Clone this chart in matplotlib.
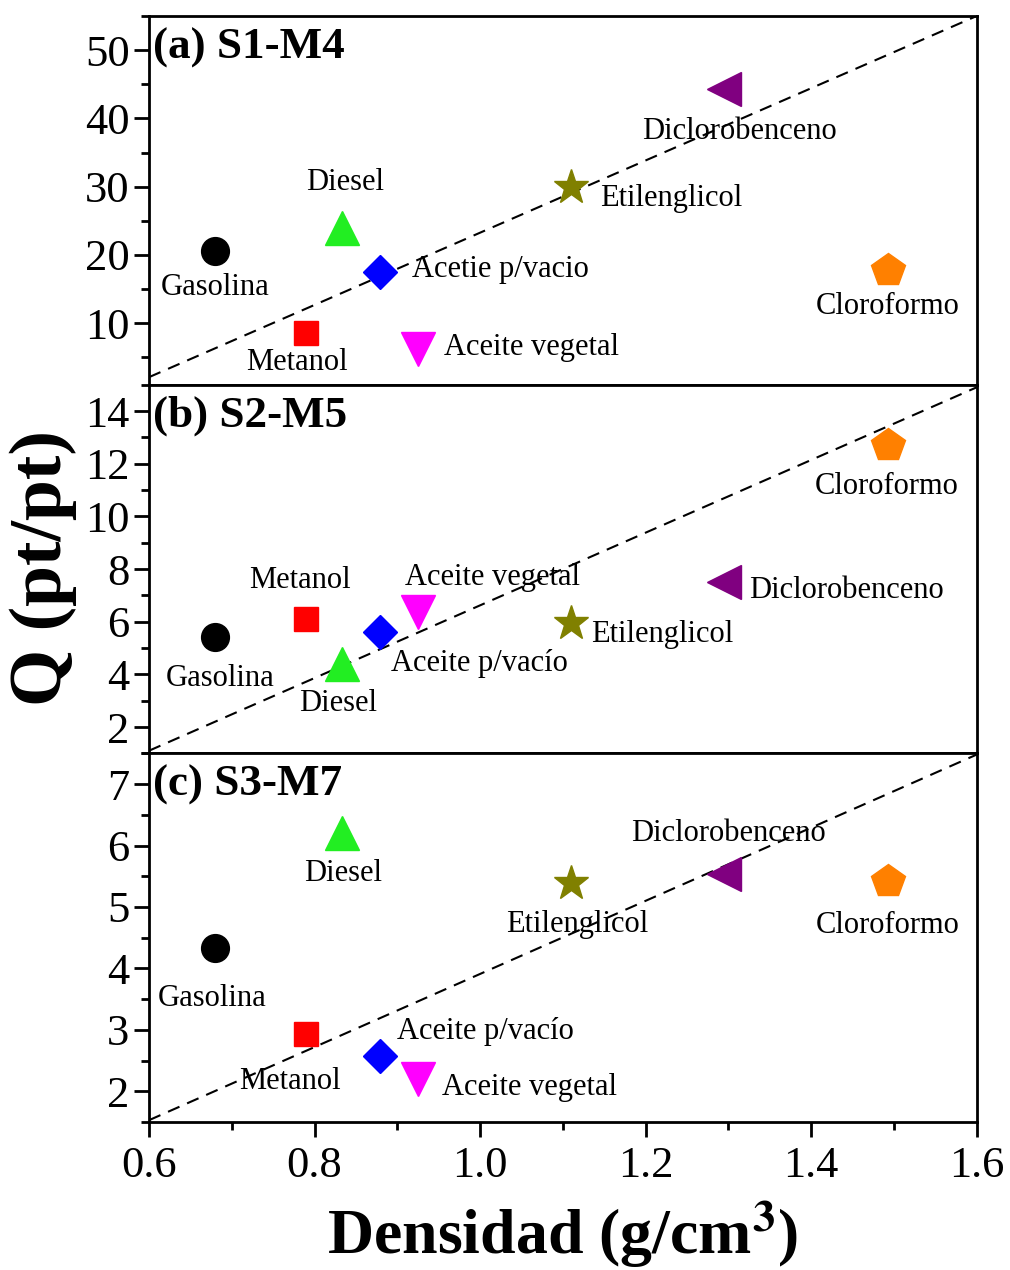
import matplotlib
matplotlib.use("Agg")
import matplotlib.pyplot as plt
from matplotlib.ticker import MultipleLocator

plt.rcParams['font.family'] = ['Liberation Serif', 'DejaVu Serif']
plt.rcParams['mathtext.fontset'] = 'stix'

# densidad de cada solvente (g/cm3)
solventes = ['Gasolina', 'Metanol', 'Diesel', 'Aceite p/vacío', 'Aceite vegetal',
             'Etilenglicol', 'Diclorobenceno', 'Cloroformo']
densidad = [0.68, 0.79, 0.833, 0.879, 0.925, 1.11, 1.295, 1.4925]

# Q (pt/pt) para cada sensor
q_s1m4 = [20.6, 8.5, 24.0, 17.5, 6.2, 30.0, 44.3, 17.8]
q_s2m5 = [5.4, 6.1, 4.4, 5.6, 6.35, 5.95, 7.5, 12.7]
q_s3m7 = [4.33, 2.93, 6.2, 2.57, 2.2, 5.39, 5.53, 5.42]

# linea de referencia (extremos)
ref_x = [0.6, 1.6]
ref_s1m4 = [2.1, 55.0]
ref_s2m5 = [1.1, 14.9]
ref_s3m7 = [1.53, 7.48]

etiquetas_a = ['Gasolina', 'Metanol', 'Diesel', 'Acetie p/vacio', 'Aceite vegetal',
               'Etilenglicol', 'Diclorobenceno', 'Cloroformo']
etiquetas_b = solventes
etiquetas_c = solventes

markers = ['o', 's', '^', 'D', 'v', '*', '<', 'p']
msizes = [20, 17, 24, 17, 24, 26, 25, 25]
colors = ['black', '#ff0000', '#22ee22', '#0000ff', '#ff00ff', '#808000', '#800080', '#ff8000']

# posicion de cada etiqueta: (x, y, ha)
pos_a = [(0.68, 15.3, 'center'), (0.779, 4.3, 'center'), (0.837, 30.6, 'center'),
         (0.918, 17.9, 'left'), (0.956, 6.5, 'left'), (1.145, 28.2, 'left'),
         (1.313, 38.1, 'center'), (1.4925, 12.4, 'center')]
pos_b = [(0.686, 3.85, 'center'), (0.782, 7.55, 'center'), (0.829, 2.9, 'center'),
         (0.893, 4.4, 'left'), (0.909, 7.66, 'left'), (1.134, 5.5, 'left'),
         (1.325, 7.17, 'left'), (1.491, 11.14, 'center')]
pos_c = [(0.676, 3.51, 'center'), (0.770, 2.16, 'center'), (0.834, 5.55, 'center'),
         (0.90, 2.97, 'left'), (0.954, 2.07, 'left'), (1.117, 4.71, 'center'),
         (1.30, 6.19, 'center'), (1.4925, 4.7, 'center')]

paneles = [
    ('(a) S1-M4', q_s1m4, ref_s1m4, etiquetas_a, pos_a, (1, 55), 10, 5),
    ('(b) S2-M5', q_s2m5, ref_s2m5, etiquetas_b, pos_b, (1, 15), 2, 1),
    ('(c) S3-M7', q_s3m7, ref_s3m7, etiquetas_c, pos_c, (1.5, 7.5), 1, 0.5),
]

fig, axes = plt.subplots(3, 1, sharex=True, figsize=(10.1, 12.7), dpi=100)
fig.subplots_adjust(left=0.1475, right=0.967, top=0.9874, bottom=0.1165, hspace=0)

for ax, (titulo, q, ref, etiq, pos, ylim, major, minor) in zip(axes, paneles):
    ax.plot(ref_x, ref, color='black', lw=1.5, ls=(0, (6, 4)), zorder=1)
    for i in range(len(densidad)):
        ax.plot(densidad[i], q[i], marker=markers[i], ms=msizes[i], color=colors[i],
                mec=colors[i], ls='none', zorder=3)
        x, y, ha = pos[i]
        ax.text(x, y, etiq[i], ha=ha, va='center', fontsize=22, zorder=2)
    ax.text(0.005, 0.915, titulo, transform=ax.transAxes, fontsize=32.5,
            fontweight='bold', ha='left', va='center')
    ax.set_ylim(*ylim)
    ax.set_xlim(0.6, 1.6)
    ax.yaxis.set_major_locator(MultipleLocator(major))
    ax.yaxis.set_minor_locator(MultipleLocator(minor))
    ax.xaxis.set_major_locator(MultipleLocator(0.2))
    ax.xaxis.set_minor_locator(MultipleLocator(0.1))
    for s in ax.spines.values():
        s.set_linewidth(2)
    ax.tick_params(axis='y', which='major', direction='out', length=11, width=2,
                   labelsize=32, pad=3)
    ax.tick_params(axis='y', which='minor', direction='out', length=6, width=2)
    ax.tick_params(axis='x', which='both', bottom=False, top=False)

axes[-1].tick_params(axis='x', which='major', bottom=True, direction='out',
                     length=11, width=2, labelsize=32, pad=6)
axes[-1].tick_params(axis='x', which='minor', bottom=True, direction='out',
                     length=6, width=2)
axes[-1].xaxis.set_major_formatter(plt.FormatStrFormatter('%.1f'))

fig.text(0.043, 0.553, 'Q (pt/pt)', rotation=90, ha='center', va='center',
         fontsize=53, fontweight='bold')
fig.text(0.557, 0.027, r'Densidad (g/cm$^{\mathbf{3}}$)', ha='center', va='center',
         fontsize=46, fontweight='bold')

fig.savefig('out.png', dpi=100)
